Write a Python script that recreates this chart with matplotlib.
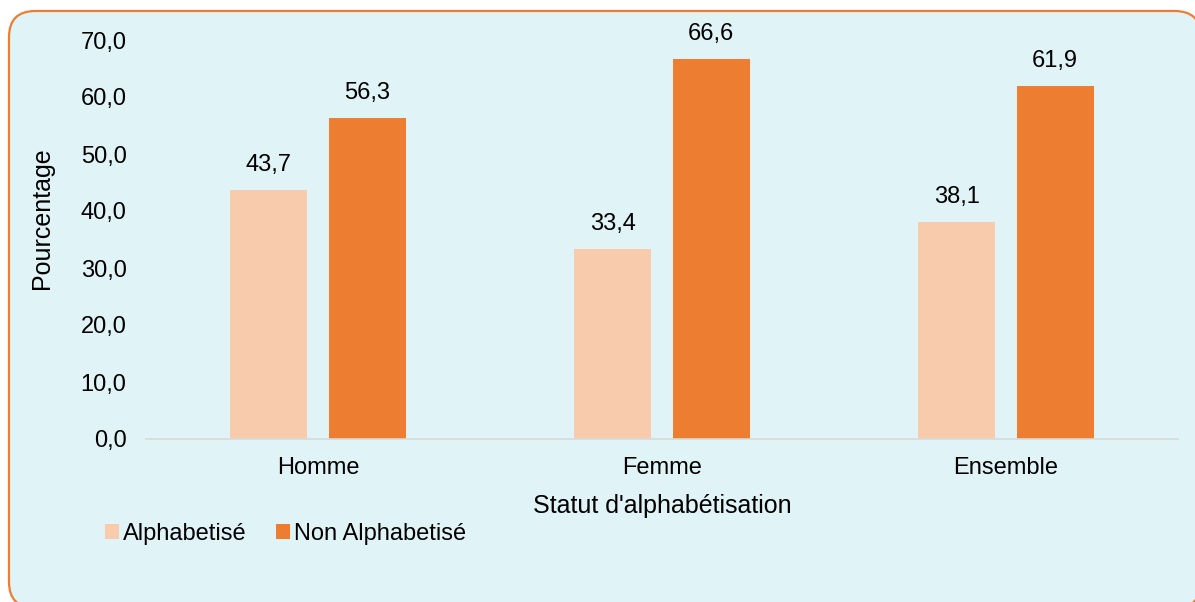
import matplotlib.pyplot as plt
import numpy as np
from matplotlib.patches import FancyBboxPatch

plt.rcParams['font.family'] = ['Liberation Sans', 'DejaVu Sans']

categories = ['Homme', 'Femme', 'Ensemble']
series_names = ['Alphabetisé', 'Non Alphabetisé']
alphabetise = [43.7, 33.4, 38.1]
non_alphabetise = [56.3, 66.6, 61.9]
yticks = [0, 10, 20, 30, 40, 50, 60, 70]

colors = ['#F8CBAD', '#ED7D31']
bg = '#E0F3F7'

fig = plt.figure(figsize=(11.95, 6.02), dpi=100)
fig.patch.set_facecolor('white')

# rounded frame behind the chart
x0, x1 = 9 / 1195, 1201 / 1195
y0, y1 = 1 - 608 / 602, 1 - 11 / 602
box = FancyBboxPatch((x0, y0), x1 - x0, y1 - y0,
                     boxstyle='round,pad=0,rounding_size=0.022',
                     transform=fig.transFigure, facecolor=bg,
                     edgecolor='#ED7D31', linewidth=1.6, zorder=-5,
                     mutation_aspect=1195 / 602)
fig.patches.append(box)

ax = fig.add_axes([146 / 1195, 1 - 439 / 602, (1178 - 146) / 1195, (439 - 40) / 602])
ax.set_facecolor('none')
ax.set_zorder(2)

x = np.arange(len(categories))
w = 0.224
off = 0.143
b1 = ax.bar(x - off, alphabetise, w, color=colors[0], label=series_names[0])
b2 = ax.bar(x + off, non_alphabetise, w, color=colors[1], label=series_names[1])

fmt = lambda v: f'{v:.1f}'.replace('.', ',')
for bars, vals in [(b1, alphabetise), (b2, non_alphabetise)]:
    for r, v in zip(bars, vals):
        ax.annotate(fmt(v), (r.get_x() + r.get_width() / 2, v),
                    xytext=(0, 10), textcoords='offset points',
                    ha='center', va='bottom', fontsize=17)

ax.set_xlim(-0.5, 2.5)
ax.set_ylim(0, 70)
ax.set_yticks(yticks)
ax.set_yticklabels([fmt(t) for t in yticks], fontsize=17)
ax.set_xticks(x)
ax.set_xticklabels(categories, fontsize=17)
ax.tick_params(axis='both', length=0)
ax.tick_params(axis='y', pad=14)
ax.tick_params(axis='x', pad=13)
for s in ['top', 'right', 'left']:
    ax.spines[s].set_visible(False)
ax.spines['bottom'].set_color('#D9D9D9')
ax.spines['bottom'].set_linewidth(1.2)

ax.set_ylabel('Pourcentage', fontsize=18)
ax.yaxis.set_label_coords(-0.089, 0.553)
ax.set_xlabel("Statut d'alphabétisation", fontsize=18, labelpad=11)

fig.legend(handles=[b1, b2], labels=series_names, loc='center left',
           bbox_to_anchor=(84 / 1195, 1 - 534 / 602), ncol=2, frameon=False,
           fontsize=17, handlelength=0.6, handleheight=0.6, handletextpad=0.15,
           columnspacing=1.25)

fig.savefig('out.png', dpi=100, facecolor=fig.get_facecolor())
